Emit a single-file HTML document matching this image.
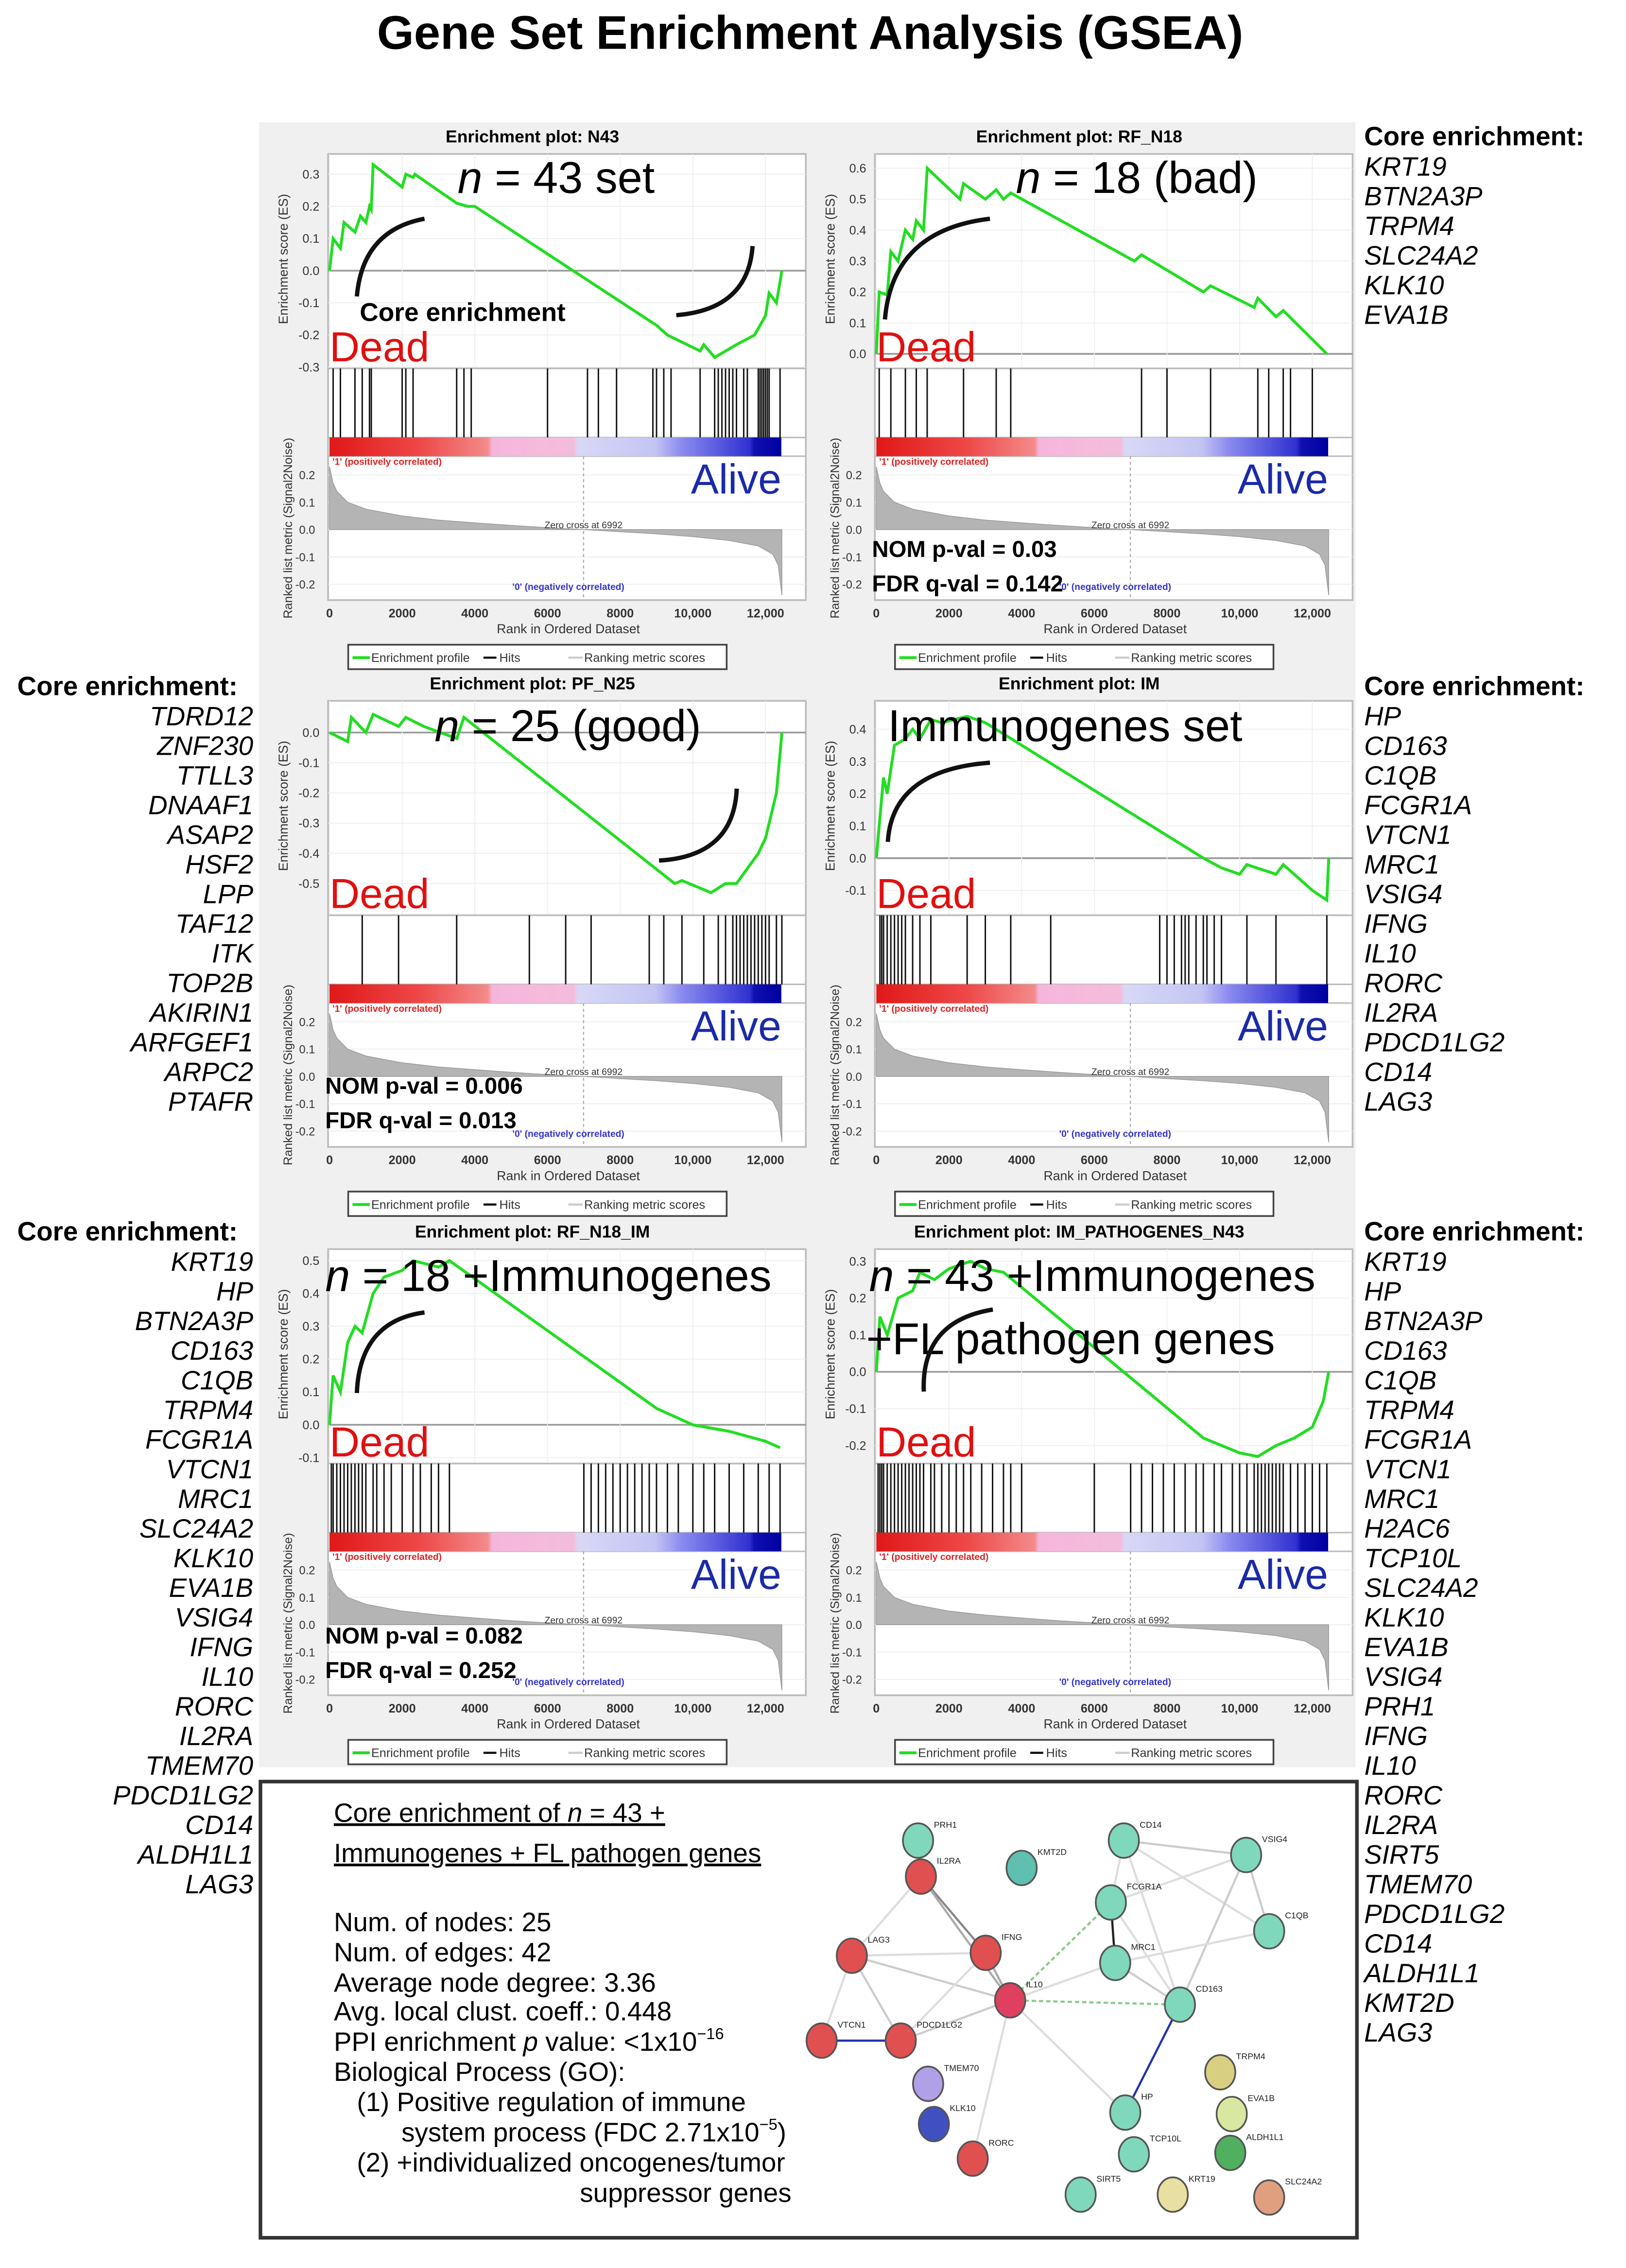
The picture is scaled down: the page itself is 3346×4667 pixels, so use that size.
<!DOCTYPE html>
<html><head><meta charset="utf-8"><style>
html,body{margin:0;padding:0;background:#fff;}
svg{display:block;}
text{font-family:"Liberation Sans",sans-serif;}
</style></head><body>
<svg id="fig" width="3346" height="4667" viewBox="0 0 1130 1576" preserveAspectRatio="none" xmlns="http://www.w3.org/2000/svg">
<rect x="0" y="0" width="1130" height="1576" fill="#fff"/>
<text x="563" y="34" text-anchor="middle" font-size="33" font-weight="bold">Gene Set Enrichment Analysis (GSEA)</text>
<rect x="180" y="85" width="762" height="1143" fill="#f0f0f0"/>
<g id="panels"></g>
<g id="lists"></g>
<rect x="181" y="1238" width="762" height="317" fill="#fff" stroke="#333" stroke-width="2.5"/>
<g font-size="18.5">
<text x="232" y="1266" text-decoration="underline">Core enrichment of <tspan font-style="italic">n</tspan> = 43 +</text>
<text x="232" y="1294" text-decoration="underline">Immunogenes + FL pathogen genes</text>
<text x="232" y="1342">Num. of nodes: 25</text>
<text x="232" y="1363">Num. of edges: 42</text>
<text x="232" y="1384">Average node degree: 3.36</text>
<text x="232" y="1404">Avg. local clust. coeff.: 0.448</text>
<text x="232" y="1425">PPI enrichment <tspan font-style="italic">p</tspan> value: &lt;1x10<tspan font-size="11" dy="-8">−16</tspan></text>
<text x="232" y="1446">Biological Process (GO):</text>
<text x="248" y="1467">(1) Positive regulation of immune</text>
<text x="279" y="1488">system process (FDC 2.71x10<tspan font-size="11" dy="-8">−5</tspan><tspan dy="8">)</tspan></text>
<text x="248" y="1509">(2) +individualized oncogenes/tumor</text>
<text x="403" y="1530">suppressor genes</text>
</g>
<g id="network"></g>
</svg>
<script>
const NS='http://www.w3.org/2000/svg';
function mk(parent,tag,attrs,txt){const e=document.createElementNS(NS,tag);for(const k in attrs)e.setAttribute(k,attrs[k]);if(txt!==undefined)e.textContent=txt;parent.appendChild(e);return e;}

// ---- shared ranked-list metric ----
const metricRanks=[0,100,200,500,1000,2000,3000,4000,5000,6000,6992,8000,9000,10000,11000,11800,12200,12350,12450];
const metricValues=[0.23,0.17,0.14,0.1,0.075,0.05,0.035,0.025,0.015,0.007,0,-0.008,-0.016,-0.026,-0.04,-0.06,-0.09,-0.13,-0.24];
const metricTicks=[0.2,0.1,0.0,-0.1,-0.2];
const rankTicks=[0,2000,4000,6000,8000,10000,12000];
const rankTickLabels=['0','2000','4000','6000','8000','10,000','12,000'];
const zeroCross=6992;

// ---- panel N43 ----
const n43Ranks=[0,100,300,400,700,850,1000,1100,1150,1200,2000,2100,2300,2350,3500,3800,4000,9000,9300,10200,10300,10600,11200,11700,12000,12100,12300,12450];
const n43ES=[0,0.1,0.07,0.15,0.12,0.17,0.15,0.2,0.19,0.33,0.26,0.3,0.29,0.3,0.21,0.2,0.2,-0.17,-0.2,-0.25,-0.23,-0.27,-0.23,-0.2,-0.14,-0.07,-0.1,0.0];
const n43Hits=[100,300,700,900,1100,1150,2000,2100,2300,3500,3700,3900,6000,7100,7400,7900,8900,9000,9200,9400,10200,10600,10700,10800,10900,11000,11100,11200,11400,11500,11800,11850,11900,11950,12000,12050,12100,12400];
const n43Ticks=[0.3,0.2,0.1,0.0,-0.1,-0.2,-0.3];
// ---- panel RF_N18 ----
const rf18Ranks=[0,80,300,400,600,800,1000,1100,1300,1400,2300,2400,3000,3300,3500,3700,7100,7300,9000,9200,10400,10500,11000,11200,12400];
const rf18ES=[0,0.2,0.19,0.33,0.3,0.4,0.37,0.43,0.4,0.6,0.5,0.55,0.5,0.53,0.5,0.52,0.3,0.32,0.2,0.22,0.15,0.18,0.12,0.14,0.0];
const rf18Hits=[80,400,800,1100,1400,2400,3300,3700,7300,8000,9200,10500,10800,11200,11400,12000];
const rf18Ticks=[0.6,0.5,0.4,0.3,0.2,0.1,0.0];
// ---- panel PF_N25 ----
const pf25Ranks=[0,500,600,1000,1200,1900,2100,2600,3500,3700,9500,9700,10300,10500,10900,11200,11500,11800,12000,12300,12450];
const pf25ES=[0,-0.03,0.05,0.0,0.06,0.02,0.05,0.02,-0.02,0.05,-0.5,-0.49,-0.52,-0.53,-0.5,-0.5,-0.45,-0.4,-0.35,-0.2,0.0];
const pf25Hits=[900,1900,3500,5500,6500,7200,8800,9200,9700,10300,10700,10900,11100,11200,11300,11400,11500,11600,11700,11800,11900,12000,12100,12300,12450];
const pf25Ticks=[0.0,-0.1,-0.2,-0.3,-0.4,-0.5];
// ---- panel IM ----
const imRanks=[0,200,300,500,800,1000,1200,1500,1800,2500,3000,9000,9500,10000,10200,11000,11200,12000,12400,12450];
const imES=[0,0.25,0.2,0.35,0.37,0.4,0.37,0.43,0.42,0.44,0.42,0.0,-0.03,-0.05,-0.02,-0.05,-0.02,-0.1,-0.13,0.0];
const imHits=[100,150,200,300,400,500,600,700,800,1000,1200,1500,2500,3000,3700,4800,7800,8000,8200,8400,8500,8600,8800,9000,9100,9300,9500,10200,11000,12400];
const imTicks=[0.4,0.3,0.2,0.1,0.0,-0.1];
// ---- panel RF_N18_IM ----
const rfimRanks=[0,100,300,500,700,900,1200,1500,2000,2300,3000,3300,9000,10000,11000,12000,12400];
const rfimES=[0,0.15,0.1,0.25,0.3,0.28,0.4,0.45,0.47,0.5,0.48,0.5,0.05,0.0,-0.02,-0.05,-0.07];
const rfimHits=[50,100,200,300,400,500,600,700,800,900,1000,1200,1300,1500,1700,2000,2300,2500,2800,3000,3300,7000,7200,7400,7600,7800,8000,8200,8400,8600,8800,9000,9300,9600,10000,10300,10600,11000,11400,11800,12100,12400];
const rfimTicks=[0.5,0.4,0.3,0.2,0.1,0.0,-0.1];
// ---- panel IM_PATHOGENES_N43 ----
const ipRanks=[0,100,300,600,1000,1200,1600,2000,2600,3000,3500,9000,10000,10500,11000,11500,12000,12300,12450];
const ipES=[0,0.15,0.1,0.2,0.22,0.27,0.25,0.28,0.3,0.28,0.27,-0.18,-0.22,-0.23,-0.2,-0.18,-0.15,-0.08,0.0];
const ipHits=[50,100,150,200,300,400,500,600,700,800,900,1000,1100,1200,1300,1500,1600,1800,2000,2200,2400,2600,2900,3200,3500,3700,4000,6000,7000,7300,7600,7900,8200,8500,8800,9000,9300,9500,9800,10000,10200,10400,10500,10600,10700,10800,10900,11000,11100,11200,11400,11600,11800,12000,12200,12400];
const ipTicks=[0.3,0.2,0.1,0.0,-0.1,-0.2];

const panels=[
 {ox:0,oy:0,title:'Enrichment plot: N43',r:n43Ranks,v:n43ES,h:n43Hits,t:n43Ticks,top:0.363,bot:-0.304,name:'n43'},
 {ox:380,oy:0,title:'Enrichment plot: RF_N18',r:rf18Ranks,v:rf18ES,h:rf18Hits,t:rf18Ticks,top:0.646,bot:-0.047,name:'rf-n18'},
 {ox:0,oy:380,title:'Enrichment plot: PF_N25',r:pf25Ranks,v:pf25ES,h:pf25Hits,t:pf25Ticks,top:0.105,bot:-0.605,name:'pf-n25'},
 {ox:380,oy:380,title:'Enrichment plot: IM',r:imRanks,v:imES,h:imHits,t:imTicks,top:0.488,bot:-0.177,name:'im'},
 {ox:0,oy:761,title:'Enrichment plot: RF_N18_IM',r:rfimRanks,v:rfimES,h:rfimHits,t:rfimTicks,top:0.535,bot:-0.118,name:'rf-n18-im'},
 {ox:380,oy:761,title:'Enrichment plot: IM_PATHOGENES_N43',r:ipRanks,v:ipES,h:ipHits,t:ipTicks,top:0.333,bot:-0.249,name:'im-pathogenes-n43'}
];
const PG=document.getElementById('panels');
panels.forEach(p=>{
 const g=mk(PG,'g',{});
 
 
 const ox=p.ox,oy=p.oy;
 const xs=r=>ox+229+r*0.02525;
 const ys=v=>oy+107+(p.top-v)/(p.top-p.bot)*149;
 const ym=v=>oy+368-v*190;
 const t=mk(g,'text',{x:ox+370,y:oy+99,'text-anchor':'middle','font-size':12,'font-weight':'bold'},p.title);
 
 
 mk(g,'rect',{x:ox+228,y:oy+107,width:332,height:310,fill:'#fff',stroke:'#bbb','stroke-width':1.2});
 // grid + ES ticks
 p.t.forEach(v=>{
  mk(g,'line',{x1:ox+228,x2:ox+560,y1:ys(v),y2:ys(v),stroke:v===0?'#999':'#eee','stroke-width':v===0?1.2:0.6});
  const tl=mk(g,'text',{x:ox+222,y:ys(v)+3,'text-anchor':'end','font-size':8.5,fill:'#333'},v.toFixed(1));
  
  
 });
 rankTicks.forEach(r=>{mk(g,'line',{x1:xs(r),x2:xs(r),y1:oy+107,y2:oy+256,stroke:'#eee','stroke-width':0.6});});
 mk(g,'line',{x1:ox+228,x2:ox+560,y1:oy+256,y2:oy+256,stroke:'#bbb','stroke-width':1.2});
 mk(g,'line',{x1:ox+228,x2:ox+560,y1:oy+304,y2:oy+304,stroke:'#bbb','stroke-width':1});
 mk(g,'line',{x1:ox+228,x2:ox+560,y1:oy+317,y2:oy+317,stroke:'#bbb','stroke-width':1});
 // ES line
 const pts=p.r.map((r,i)=>xs(r).toFixed(1)+','+ys(p.v[i]).toFixed(1)).join(' ');
 const pl=mk(g,'polyline',{points:pts,fill:'none',stroke:'#22dd22','stroke-width':2});
 
 
 // hits
 p.h.forEach(r=>{
  const l=mk(g,'line',{x1:xs(r),x2:xs(r),y1:oy+256,y2:oy+304,stroke:'#111','stroke-width':1});
  
  
 });
 // color bar
 const gid='cb'+p.name;
 const defs=mk(g,'defs',{});
 const lg=mk(defs,'linearGradient',{id:gid,x1:0,x2:1,y1:0,y2:0});
 [[0,'#e01818'],[0.2,'#ee4848'],[0.35,'#f38a8a'],[0.36,'#f6b6dc'],[0.54,'#f4bcdc'],[0.55,'#d8d8f6'],[0.72,'#c4c4f4'],[0.78,'#8a8af0'],[0.93,'#3030d0'],[0.94,'#1010b0'],[1,'#0000a0']].forEach(s=>mk(lg,'stop',{offset:s[0],'stop-color':s[1]}));
 const cb=mk(g,'rect',{x:ox+229,y:oy+304,width:314,height:13,fill:'url(#'+gid+')'});
 
 
 mk(g,'text',{x:ox+231,y:oy+323,'font-size':6.5,fill:'#d22','font-weight':'bold'},"'1' (positively correlated)");
 // metric
 metricTicks.forEach(v=>{
  mk(g,'line',{x1:ox+228,x2:ox+560,y1:ym(v),y2:ym(v),stroke:'#eee','stroke-width':0.6});
  mk(g,'text',{x:ox+219,y:ym(v)+3,'text-anchor':'end','font-size':8,fill:'#333'},v.toFixed(1));
 });
 const mp='M'+xs(0)+','+ym(0)+' '+metricRanks.map((r,i)=>'L'+xs(r).toFixed(1)+','+ym(metricValues[i]).toFixed(1)).join(' ')+' L'+xs(metricRanks[metricRanks.length-1])+','+ym(0)+'Z';
 const ma=mk(g,'path',{d:mp,fill:'#b4b4b4',stroke:'#999','stroke-width':0.5});
 
 
 mk(g,'line',{x1:xs(zeroCross),x2:xs(zeroCross),y1:oy+317,y2:oy+416,stroke:'#aaa','stroke-width':0.8,'stroke-dasharray':'2,2'});
 mk(g,'text',{x:xs(zeroCross),y:oy+367,'text-anchor':'middle','font-size':6.5,fill:'#333'},'Zero cross at '+zeroCross);
 mk(g,'text',{x:ox+395,y:oy+410,'text-anchor':'middle','font-size':6.5,fill:'#33c','font-weight':'bold'},"'0' (negatively correlated)");
 rankTicks.forEach((r,i)=>{
  const tl=mk(g,'text',{x:xs(r),y:oy+429,'text-anchor':'middle','font-size':8.5,'font-weight':'bold',fill:'#333'},rankTickLabels[i]);
  
  
 });
 mk(g,'text',{x:ox+395,y:oy+440,'text-anchor':'middle','font-size':9,fill:'#333'},'Rank in Ordered Dataset');
 mk(g,'text',{x:ox+200,y:oy+180,'text-anchor':'middle','font-size':9,fill:'#333',transform:'rotate(-90 '+(ox+200)+' '+(oy+180)+')'},'Enrichment score (ES)');
 mk(g,'text',{x:ox+203,y:oy+367,'text-anchor':'middle','font-size':8.5,fill:'#333',transform:'rotate(-90 '+(ox+203)+' '+(oy+367)+')'},'Ranked list metric (Signal2Noise)');
 const lgd=mk(g,'g',{});
 
 
 mk(lgd,'rect',{x:ox+242,y:oy+448,width:263,height:17,fill:'#fff',stroke:'#444','stroke-width':1.2});
 mk(lgd,'line',{x1:ox+245,x2:ox+257,y1:oy+457,y2:oy+457,stroke:'#22dd22','stroke-width':2});
 mk(lgd,'text',{x:ox+258,y:oy+460,'font-size':8.5,fill:'#333'},'Enrichment profile');
 mk(lgd,'line',{x1:ox+336,x2:ox+345,y1:oy+457,y2:oy+457,stroke:'#111','stroke-width':1.5});
 mk(lgd,'text',{x:ox+347,y:oy+460,'font-size':8.5,fill:'#333'},'Hits');
 mk(lgd,'line',{x1:ox+395,x2:ox+405,y1:oy+457,y2:oy+457,stroke:'#ccc','stroke-width':1.5});
 mk(lgd,'text',{x:ox+406,y:oy+460,'font-size':8.5,fill:'#333'},'Ranking metric scores');
 // Dead / Alive
 const d=mk(g,'text',{x:ox+229,y:oy+251,'font-size':29,fill:'#e01010'},'Dead');
 
 
 const a=mk(g,'text',{x:ox+543,y:oy+343,'text-anchor':'end','font-size':29,fill:'#1a2aa8'},'Alive');
 
 
});

// annotations
const AN=mk(document.getElementById('fig'),'g',{});


function ann(x,y,html,size,weight){const t=mk(AN,'text',{x:x,y:y,'font-size':size,'font-weight':weight||'normal'});t.innerHTML=html;return t;}
ann(318,134,'<tspan font-style="italic">n</tspan> = 43 set',31);
ann(706,134,'<tspan font-style="italic">n</tspan> = 18 (bad)',31);
ann(302,515,'<tspan font-style="italic">n</tspan> = 25 (good)',31);
ann(617,515,'Immunogenes set',31);
ann(226,897,'<tspan font-style="italic">n</tspan> = 18 +Immunogenes',31);
ann(604,897,'<tspan font-style="italic">n</tspan> = 43 +Immunogenes',31);
ann(602,941,'+FL pathogen genes',31);
ann(250,223,'Core enrichment',18,'bold');
ann(606,387,'NOM p-val = 0.03',16,'bold');
ann(606,411,'FDR q-val = 0.142',16,'bold');
ann(226,760,'NOM p-val = 0.006',16,'bold');
ann(226,784,'FDR q-val = 0.013',16,'bold');
ann(226,1142,'NOM p-val = 0.082',16,'bold');
ann(226,1166,'FDR q-val = 0.252',16,'bold');
['M248,206 Q252,160 295,152','M470,219 Q520,215 523,171','M615,222 Q620,160 688,152','M458,598 Q510,595 512,548','M617,585 Q620,535 688,530','M248,968 Q250,918 295,912','M642,967 Q640,918 690,910'].forEach(d=>{
 const p=mk(AN,'path',{d:d,fill:'none',stroke:'#111','stroke-width':3});
 
 
});

// gene lists
const LG=document.getElementById('lists');
function list(x,y,anchor,genes,hx){
 const g=mk(LG,'g',{});
 
 
 mk(g,'text',{x:hx,y:y+7,'font-size':18.5,'font-weight':'bold'},'Core enrichment:');
 genes.forEach((n,i)=>{mk(g,'text',{x:x,y:y+28+i*20.6,'text-anchor':anchor,'font-size':18.5,'font-style':'italic'},n);});
}
list(948,94,'start',['KRT19','BTN2A3P','TRPM4','SLC24A2','KLK10','EVA1B'],948);
list(948,476,'start',['HP','CD163','C1QB','FCGR1A','VTCN1','MRC1','VSIG4','IFNG','IL10','RORC','IL2RA','PDCD1LG2','CD14','LAG3'],948);
list(948,855,'start',['KRT19','HP','BTN2A3P','CD163','C1QB','TRPM4','FCGR1A','VTCN1','MRC1','H2AC6','TCP10L','SLC24A2','KLK10','EVA1B','VSIG4','PRH1','IFNG','IL10','RORC','IL2RA','SIRT5','TMEM70','PDCD1LG2','CD14','ALDH1L1','KMT2D','LAG3'],948);
list(176,476,'end',['TDRD12','ZNF230','TTLL3','DNAAF1','ASAP2','HSF2','LPP','TAF12','ITK','TOP2B','AKIRIN1','ARFGEF1','ARPC2','PTAFR'],12);
list(176,855,'end',['KRT19','HP','BTN2A3P','CD163','C1QB','TRPM4','FCGR1A','VTCN1','MRC1','SLC24A2','KLK10','EVA1B','VSIG4','IFNG','IL10','RORC','IL2RA','TMEM70','PDCD1LG2','CD14','ALDH1L1','LAG3'],12);

// network
const NW=document.getElementById('network');
const nodes={PRH1:[638,1279,'#7fd8bc'],IL2RA:[640,1304,'#e05050'],KMT2D:[710,1298,'#5fc0b0'],CD14:[781,1279,'#7fd8bc'],VSIG4:[866,1289,'#7fd8bc'],FCGR1A:[772,1322,'#7fd8bc'],C1QB:[882,1342,'#7fd8bc'],LAG3:[592,1359,'#e05050'],IFNG:[685,1357,'#e05050'],MRC1:[775,1364,'#7fd8bc'],IL10:[702,1390,'#e04060'],CD163:[820,1393,'#7fd8bc'],VTCN1:[571,1418,'#e05050'],PDCD1LG2:[626,1418,'#e05050'],TMEM70:[645,1448,'#b0a0e8'],KLK10:[649,1476,'#4050c0'],RORC:[676,1500,'#e05050'],TRPM4:[848,1440,'#d8d080'],HP:[782,1468,'#7fd8bc'],EVA1B:[856,1469,'#d8e8a0'],TCP10L:[788,1497,'#7fd8bc'],ALDH1L1:[855,1496,'#50b060'],SIRT5:[751,1525,'#7fd8bc'],KRT19:[815,1525,'#e8e0a0'],SLC24A2:[882,1527,'#e0a080']};
const edges=[['PRH1','IL2RA','#aaa'],['IL2RA','IFNG','#888'],['IL2RA','IL10','#aaa'],['IL2RA','LAG3','#ddd'],['LAG3','IFNG','#ddd'],['LAG3','IL10','#ccc'],['LAG3','VTCN1','#ddd'],['LAG3','PDCD1LG2','#ccc'],['VTCN1','PDCD1LG2','#2233aa'],['PDCD1LG2','IL10','#ccc'],['PDCD1LG2','IFNG','#ddd'],['IFNG','IL10','#aaa'],['IL10','FCGR1A','#8c8'],['IL10','CD163','#8c8'],['IL10','MRC1','#ddd'],['IL10','HP','#ddd'],['IL10','RORC','#ddd'],['FCGR1A','MRC1','#222'],['FCGR1A','CD14','#ddd'],['FCGR1A','VSIG4','#ddd'],['CD14','VSIG4','#ccc'],['CD14','CD163','#ddd'],['CD14','C1QB','#ddd'],['VSIG4','C1QB','#ccc'],['VSIG4','CD163','#ccc'],['C1QB','MRC1','#ddd'],['CD163','HP','#2233aa'],['CD163','MRC1','#ccc'],['FCGR1A','CD163','#ddd']];
edges.forEach(e=>{const a=nodes[e[0]],b=nodes[e[1]];
 const l=mk(NW,'line',{x1:a[0],y1:a[1],x2:b[0],y2:b[1],stroke:e[2],'stroke-width':1.5,'stroke-dasharray':e[2]==='#8c8'?'3,2':'none'});
 
 
});
Object.keys(nodes).forEach(k=>{const n=nodes[k];
 const c=mk(NW,'ellipse',{cx:n[0],cy:n[1],rx:10.5,ry:12,fill:n[2],stroke:'#555','stroke-width':1.2});
 
 
 mk(NW,'text',{x:n[0]+11,y:n[1]-9,'font-size':6,fill:'#222'},k);
});
</script>
</body></html>
